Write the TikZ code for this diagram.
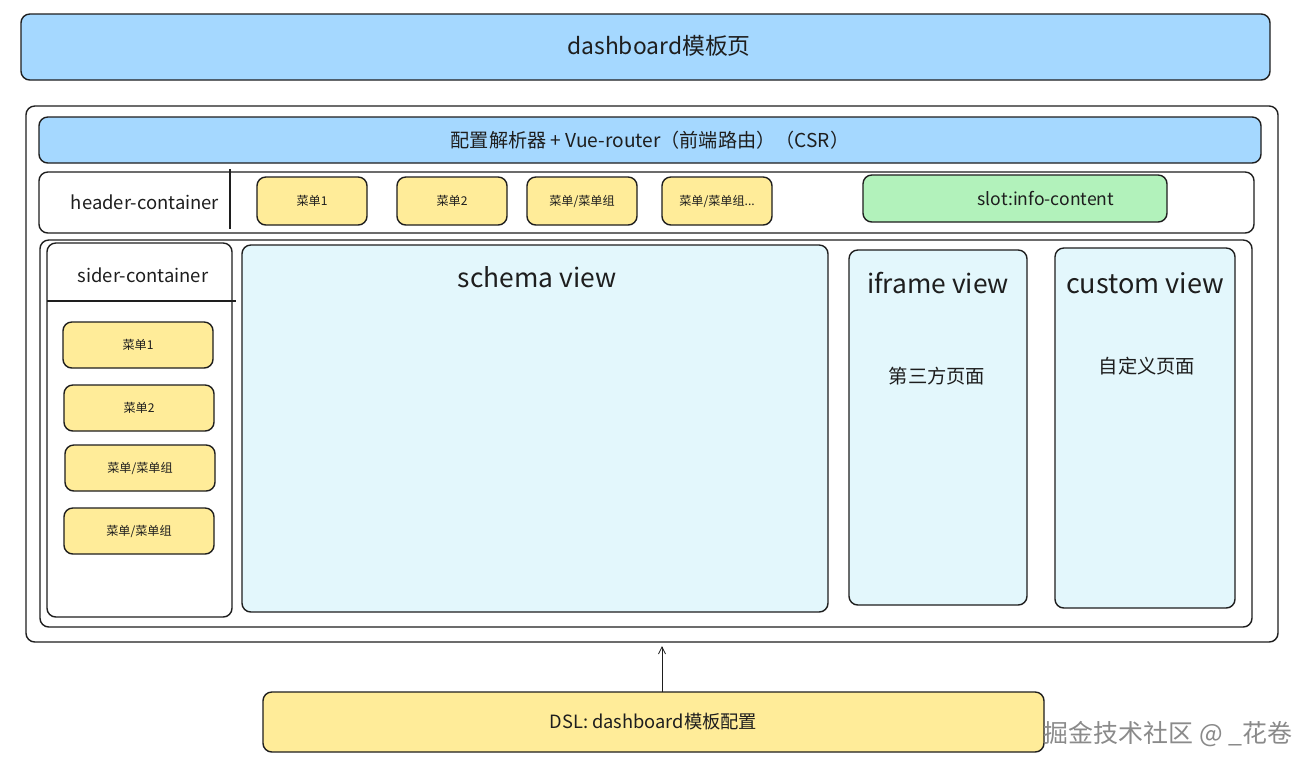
\documentclass[tikz,border=0pt]{standalone}
\usepackage{fontspec}
\setmainfont{Noto Sans CJK SC}
\usetikzlibrary{arrows.meta}
\definecolor{ink}{HTML}{1E1E1E}
\definecolor{bblue}{HTML}{A5D8FF}
\definecolor{byellow}{HTML}{FFEC99}
\definecolor{bgreen}{HTML}{B2F2BB}
\definecolor{bcyan}{HTML}{E3F7FC}
\definecolor{wmgray}{HTML}{8A8A8A}
\tikzset{
  wh/.style 2 args={minimum width=#1*0.02cm, minimum height=#2*0.02cm},
  box/.style={draw=ink, line width=0.8pt, rounded corners=5pt, inner sep=0pt, outer sep=0pt, text=ink},
  menubox/.style={box, fill=byellow, wh={110}{48}, font=\fontsize{6.9pt}{8pt}\selectfont},
  sidemenu/.style={box, fill=byellow, wh={150}{46}, font=\fontsize{6.9pt}{8pt}\selectfont},
  viewbox/.style={box, fill=bcyan},
  lbl/.style={inner sep=0pt, text=ink},
  viewtitle/.style={lbl, font=\fontsize{15pt}{18pt}\selectfont},
  cjklbl/.style={lbl, font=\fontsize{11pt}{13pt}\selectfont},
}
\begin{document}
\begin{tikzpicture}[x=0.02cm, y=-0.02cm]
\useasboundingbox[fill=white] (0,0) rectangle (1313,769);

% top bar
\node[box, fill=bblue, wh={1249}{66}] (top) at (645.5,47) {};
\node[lbl, font=\fontsize{13pt}{15pt}\selectfont] (toplbl) at (659,46) {dashboard模板页};

% outer container
\node[box, wh={1252}{536}] (outer) at (652,374) {};

% router bar
\node[box, fill=bblue, wh={1222}{46}, font=\fontsize{10.9pt}{12pt}\selectfont] (router) at (650,140) {配置解析器 + Vue-router（前端路由）（CSR）};

% header container
\node[box, wh={1215}{61}] (header) at (646.5,202.5) {};
\coordinate (divtop) at (230,169);
\coordinate (divbot) at (230,229);
\draw[ink, line width=0.8pt] (divtop) -- (divbot);
\node[lbl, font=\fontsize{10.5pt}{12pt}\selectfont] (headerlbl) at (145,202) {header-container};

\node[menubox] (hm1) at (312,201) {菜单1};
\node[menubox] (hm2) at (452,201) {菜单2};
\node[menubox] (hm3) at (582,201) {菜单/菜单组};
\node[menubox] (hm4) at (717,201) {菜单/菜单组...};

\node[box, fill=bgreen, wh={304}{47}] (slot) at (1015,198.5) {};
\node[lbl, font=\fontsize{10pt}{12pt}\selectfont] (slotlbl) at (1046,198) {slot:info-content};

% main area
\node[box, wh={1212}{387}] (main) at (646,433.5) {};

% sider
\node[box, wh={185}{374}] (sider) at (139.5,430) {};
\coordinate (sidl) at (47,301);
\coordinate (sidr) at (236,301);
\draw[ink, line width=0.8pt] (sidl) -- (sidr);
\node[lbl, font=\fontsize{10.5pt}{12pt}\selectfont] (siderlbl) at (143,275) {sider-container};

\node[sidemenu] (sm1) at (138,345) {菜单1};
\node[sidemenu] (sm2) at (139,408) {菜单2};
\node[sidemenu] (sm3) at (140,468) {菜单/菜单组};
\node[sidemenu] (sm4) at (139,531) {菜单/菜单组};

% views
\node[viewbox, wh={586}{367}] (schema) at (535,428.5) {};
\node[viewtitle] (schemalbl) at (537,277) {schema view};

\node[viewbox, wh={178}{355}] (iframe) at (938,427.5) {};
\node[viewtitle] (iframelbl) at (938,283) {iframe view};
\node[cjklbl] (iframetxt) at (937,376) {第三方页面};

\node[viewbox, wh={180}{360}] (custom) at (1145,428) {};
\node[viewtitle, font=\fontsize{15.4pt}{18pt}\selectfont] (customlbl) at (1145,283) {custom view};
\node[cjklbl] (customtxt) at (1147,366) {自定义页面};

% DSL box
\node[box, fill=byellow, wh={781}{60}, font=\fontsize{10.4pt}{12pt}\selectfont] (dsl) at (653.5,722) {DSL: dashboard模板配置};

% arrow
\coordinate (arrstart) at (662,692);
\coordinate (arrend) at (662,646);
\draw[ink, line width=0.5pt, -{Straight Barb[length=4pt,width=4pt]}] (arrstart) -- (arrend);

% watermark
\node[inner sep=0pt, text=wmgray, font=\fontsize{14.2pt}{16pt}\selectfont] (wm) at (1168,734) {掘金技术社区 @ \_花卷};
\end{tikzpicture}
\end{document}
